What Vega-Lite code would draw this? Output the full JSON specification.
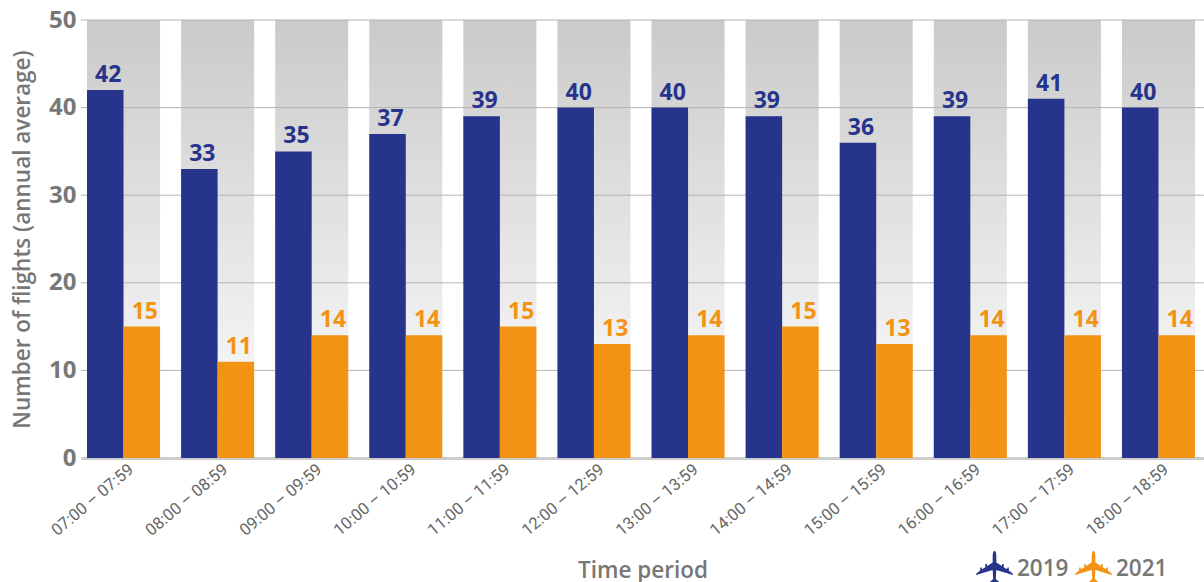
{
  "$schema": "https://vega.github.io/schema/vega-lite/v6.json",
  "width": 1123,
  "height": 438,
  "autosize": "none",
  "padding": {"left": 81, "top": 20, "right": 0, "bottom": 124},
  "background": "white",
  "config": {"view": {"stroke": null}, "font": "Open Sans"},
  "datasets": {
    "flights": [
      {"period": "07:00 – 07:59", "year": "2019", "flights": 42},
      {"period": "07:00 – 07:59", "year": "2021", "flights": 15},
      {"period": "08:00 – 08:59", "year": "2019", "flights": 33},
      {"period": "08:00 – 08:59", "year": "2021", "flights": 11},
      {"period": "09:00 – 09:59", "year": "2019", "flights": 35},
      {"period": "09:00 – 09:59", "year": "2021", "flights": 14},
      {"period": "10:00 – 10:59", "year": "2019", "flights": 37},
      {"period": "10:00 – 10:59", "year": "2021", "flights": 14},
      {"period": "11:00 – 11:59", "year": "2019", "flights": 39},
      {"period": "11:00 – 11:59", "year": "2021", "flights": 15},
      {"period": "12:00 – 12:59", "year": "2019", "flights": 40},
      {"period": "12:00 – 12:59", "year": "2021", "flights": 13},
      {"period": "13:00 – 13:59", "year": "2019", "flights": 40},
      {"period": "13:00 – 13:59", "year": "2021", "flights": 14},
      {"period": "14:00 – 14:59", "year": "2019", "flights": 39},
      {"period": "14:00 – 14:59", "year": "2021", "flights": 15},
      {"period": "15:00 – 15:59", "year": "2019", "flights": 36},
      {"period": "15:00 – 15:59", "year": "2021", "flights": 13},
      {"period": "16:00 – 16:59", "year": "2019", "flights": 39},
      {"period": "16:00 – 16:59", "year": "2021", "flights": 14},
      {"period": "17:00 – 17:59", "year": "2019", "flights": 41},
      {"period": "17:00 – 17:59", "year": "2021", "flights": 14},
      {"period": "18:00 – 18:59", "year": "2019", "flights": 40},
      {"period": "18:00 – 18:59", "year": "2021", "flights": 14}
    ],
    "periods": [
      {"period": "07:00 – 07:59"}, {"period": "08:00 – 08:59"}, {"period": "09:00 – 09:59"},
      {"period": "10:00 – 10:59"}, {"period": "11:00 – 11:59"}, {"period": "12:00 – 12:59"},
      {"period": "13:00 – 13:59"}, {"period": "14:00 – 14:59"}, {"period": "15:00 – 15:59"},
      {"period": "16:00 – 16:59"}, {"period": "17:00 – 17:59"}, {"period": "18:00 – 18:59"}
    ],
    "gridLevels": [{"level": 10}, {"level": 20}, {"level": 30}, {"level": 40}, {"level": 50}]
  },
  "encoding": {
    "x": {
      "field": "period",
      "type": "nominal",
      "scale": {"paddingInner": 0.2234, "paddingOuter": 0.0795, "align": 0.4},
      "axis": {
        "title": "Time period",
        "titleFont": "Open Sans",
        "titleFontSize": 22.5,
        "titleFontWeight": 600,
        "titleColor": "#777777",
        "titleY": 101,
        "labelFont": "Roboto",
        "labelFontSize": 16.5,
        "labelColor": "#666666",
        "labelAngle": -40,
        "labelAlign": "right",
        "labelBaseline": "middle",
        "labelPadding": 9,
        "labelOffset": 8,
        "ticks": false,
        "domain": true,
        "domainColor": "#cccccc",
        "domainWidth": 3,
        "grid": false
      }
    }
  },
  "layer": [
    {
      "data": {"name": "periods"},
      "mark": {
        "type": "bar",
        "color": {
          "gradient": "linear",
          "x1": 0, "y1": 0, "x2": 0, "y2": 1,
          "stops": [
            {"offset": 0, "color": "#cacaca"},
            {"offset": 1, "color": "#ffffff"}
          ]
        }
      },
      "encoding": {
        "y": {"datum": 50, "type": "quantitative"},
        "y2": {"datum": 0}
      }
    },
    {
      "data": {"name": "gridLevels"},
      "mark": {"type": "rule", "color": "#b4b4b4", "strokeWidth": 1},
      "encoding": {
        "x": null,
        "y": {"field": "level", "type": "quantitative"}
      }
    },
    {
      "data": {"name": "flights"},
      "mark": {"type": "bar"},
      "encoding": {
        "xOffset": {"field": "year", "type": "nominal", "scale": {"paddingInner": 0, "paddingOuter": 0}},
        "y": {
          "field": "flights",
          "type": "quantitative",
          "scale": {"domain": [0, 50]},
          "axis": {
            "title": "Number of flights (annual average)",
            "titleFont": "Open Sans",
            "titleFontSize": 22.5,
            "titleFontWeight": 600,
            "titleColor": "#777777",
            "titleX": -47,
            "labelFont": "Open Sans",
            "labelFontSize": 24,
            "labelFontWeight": 700,
            "labelColor": "#777777",
            "labelPadding": 5,
            "values": [0, 10, 20, 30, 40, 50],
            "ticks": false,
            "domain": false,
            "grid": false
          }
        },
        "color": {
          "field": "year",
          "type": "nominal",
          "scale": {"domain": ["2019", "2021"], "range": ["#27348b", "#f39314"]},
          "legend": {
            "title": null,
            "orient": "none",
            "direction": "horizontal",
            "legendX": 895,
            "legendY": 529,
            "symbolType": "M0,-1 C.06,-1 .1,-.85 .1,-.7 L.1,-.36 L.4,-.16 L.42,-.27 L.5,-.27 L.5,-.1 L.68,.02 L.7,-.08 L.78,-.08 L.78,.08 L1,.26 L1,.32 L.1,.06 L.07,.55 L.36,.8 L.36,.95 L0,.85 L-.36,.95 L-.36,.8 L-.07,.55 L-.1,.06 L-1,.32 L-1,.26 L-.78,.08 L-.78,-.08 L-.7,-.08 L-.68,.02 L-.5,-.1 L-.5,-.27 L-.42,-.27 L-.4,-.16 L-.1,-.36 L-.1,-.7 C-.1,-.85 -.06,-1 0,-1 Z",
            "symbolSize": 1350,
            "symbolStrokeWidth": 0,
            "symbolOpacity": 1,
            "labelFont": "Open Sans",
            "labelFontSize": 22.5,
            "labelFontWeight": 600,
            "labelColor": "#777777",
            "labelOffset": 4,
            "columnPadding": 6,
            "clipHeight": 40
          }
        }
      }
    },
    {
      "data": {"name": "flights"},
      "mark": {"type": "text", "fontSize": 23, "fontWeight": 700, "font": "Open Sans", "baseline": "bottom", "dy": -3, "dx": 3},
      "encoding": {
        "xOffset": {"field": "year", "type": "nominal"},
        "y": {"field": "flights", "type": "quantitative"},
        "text": {"field": "flights", "type": "quantitative"},
        "color": {"field": "year", "type": "nominal"}
      }
    }
  ]
}
